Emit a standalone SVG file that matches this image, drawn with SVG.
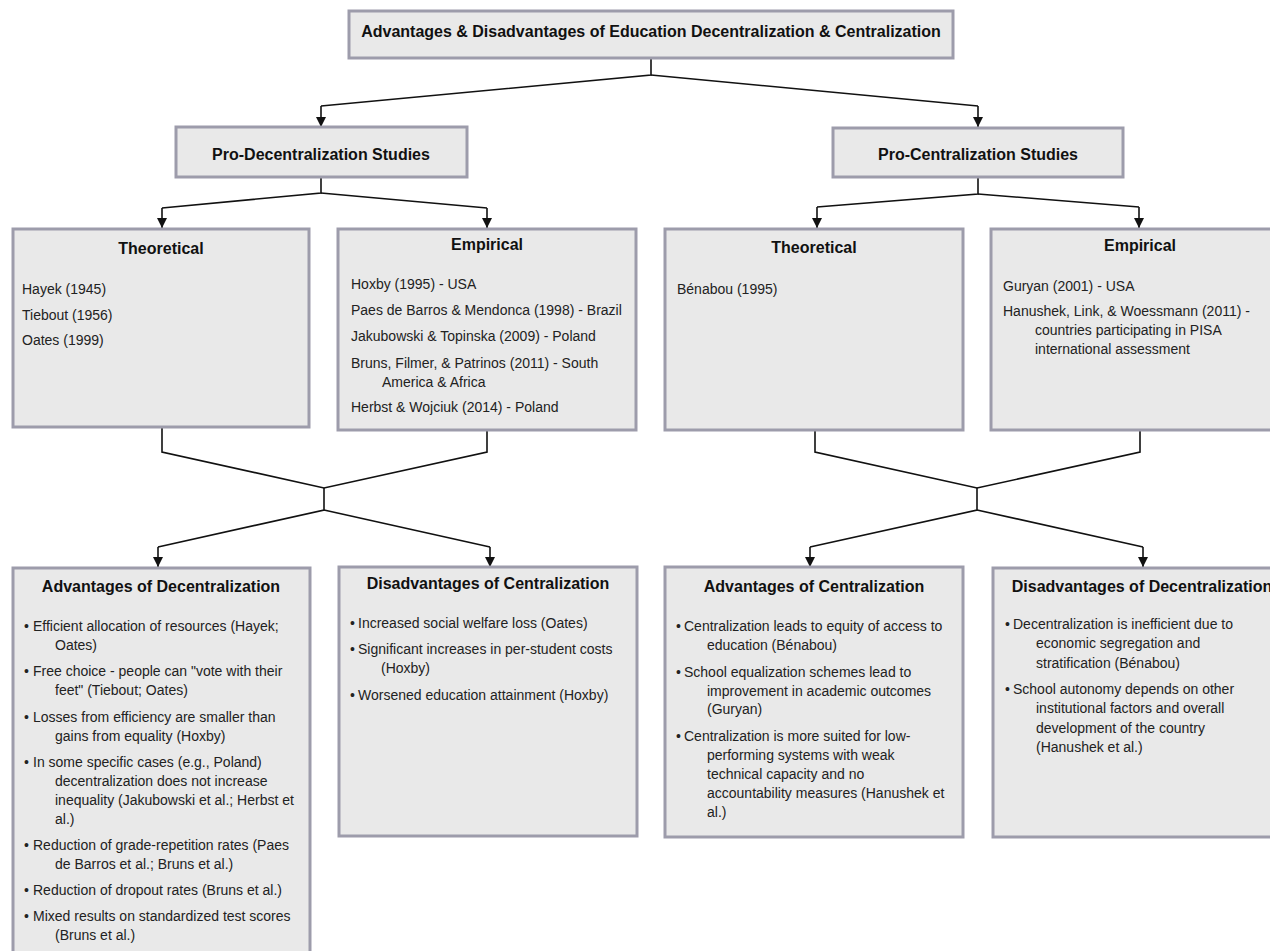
<svg xmlns="http://www.w3.org/2000/svg" width="1270" height="951" viewBox="0 0 1270 951">
<defs>
<marker id="arr" viewBox="0 0 10 10" refX="10" refY="5" markerWidth="10" markerHeight="10" markerUnits="userSpaceOnUse" orient="auto">
<path d="M0,0 L10,5 L0,10 Z" fill="#111"/>
</marker>
<style>
.box{fill:#e9e9e9;stroke:#9d9cab;stroke-width:3}
.h{font-family:"Liberation Sans",Arial,sans-serif;font-size:16px;font-weight:bold;fill:#111;text-anchor:middle}
.t{font-family:"Liberation Sans",Arial,sans-serif;font-size:14px;fill:#222}
.c{fill:none;stroke:#111;stroke-width:1.6}
</style>
</defs>
<rect width="1270" height="951" fill="#fff"/>
<g id="connectors">
<path class="c" d="M651,58 V75 L321,106"/>
<path class="c" d="M321,106 V127" marker-end="url(#arr)"/>
<path class="c" d="M651,75 L978,106"/>
<path class="c" d="M978,106 V127" marker-end="url(#arr)"/>
<path class="c" d="M321,177 V193 L162,208"/>
<path class="c" d="M162,208 V228" marker-end="url(#arr)"/>
<path class="c" d="M321,193 L487,208"/>
<path class="c" d="M487,208 V228" marker-end="url(#arr)"/>
<path class="c" d="M978,177 V194 L817,207"/>
<path class="c" d="M817,207 V228" marker-end="url(#arr)"/>
<path class="c" d="M978,194 L1139,207"/>
<path class="c" d="M1139,207 V228" marker-end="url(#arr)"/>
<path class="c" d="M162,427 V452 L324,488 L487,452 V430"/>
<path class="c" d="M324,488 V510 L158,547"/>
<path class="c" d="M158,547 V567" marker-end="url(#arr)"/>
<path class="c" d="M324,510 L490,547"/>
<path class="c" d="M490,547 V567" marker-end="url(#arr)"/>
<path class="c" d="M815,430 V452 L977,488 L1140,452 V430"/>
<path class="c" d="M977,488 V510 L810,547"/>
<path class="c" d="M810,547 V567" marker-end="url(#arr)"/>
<path class="c" d="M977,510 L1143,547"/>
<path class="c" d="M1143,547 V567" marker-end="url(#arr)"/>
</g>
<g id="root">
<rect class="box" x="349" y="11" width="604" height="47"/>
<text class="h" x="651" y="37">Advantages &amp; Disadvantages of Education Decentralization &amp; Centralization</text>
</g>
<g id="pro-decentralization">
<rect class="box" x="176" y="127" width="291" height="50"/>
<text class="h" x="321" y="159.5">Pro-Decentralization Studies</text>
</g>
<g id="pro-centralization">
<rect class="box" x="833" y="128" width="290" height="49"/>
<text class="h" x="978" y="159.5">Pro-Centralization Studies</text>
</g>
<g id="dec-theoretical">
<rect class="box" x="13" y="229" width="296" height="198"/>
<text class="h" x="161" y="253.5">Theoretical</text>
<text class="t" x="22" y="294">Hayek (1945)</text>
<text class="t" x="22" y="320">Tiebout (1956)</text>
<text class="t" x="22" y="345">Oates (1999)</text>
</g>
<g id="dec-empirical">
<rect class="box" x="338" y="229" width="298" height="201"/>
<text class="h" x="487" y="249.5">Empirical</text>
<text class="t" x="351" y="289">Hoxby (1995) - USA</text>
<text class="t" x="351" y="315">Paes de Barros &amp; Mendonca (1998) - Brazil</text>
<text class="t" x="351" y="341">Jakubowski &amp; Topinska (2009) - Poland</text>
<text class="t" x="351" y="368">Bruns, Filmer, &amp; Patrinos (2011) - South</text>
<text class="t" x="382" y="387">America &amp; Africa</text>
<text class="t" x="351" y="412">Herbst &amp; Wojciuk (2014) - Poland</text>
</g>
<g id="cen-theoretical">
<rect class="box" x="665" y="229" width="298" height="201"/>
<text class="h" x="814" y="252.5">Theoretical</text>
<text class="t" x="677" y="294">Bénabou (1995)</text>
</g>
<g id="cen-empirical">
<rect class="box" x="991" y="229" width="298" height="201"/>
<text class="h" x="1140" y="250.5">Empirical</text>
<text class="t" x="1003" y="291">Guryan (2001) - USA</text>
<text class="t" x="1003" y="316">Hanushek, Link, &amp; Woessmann (2011) -</text>
<text class="t" x="1035" y="335">countries participating in PISA</text>
<text class="t" x="1035" y="354">international assessment</text>
</g>
<g id="adv-decentralization">
<rect class="box" x="13" y="568" width="297" height="400"/>
<text class="h" x="161" y="591.5">Advantages of Decentralization</text>
<text class="t" x="24" y="631">•</text><text class="t" x="33" y="631">Efficient allocation of resources (Hayek;</text>
<text class="t" x="55" y="650">Oates)</text>
<text class="t" x="24" y="676">•</text><text class="t" x="33" y="676">Free choice - people can "vote with their</text>
<text class="t" x="55" y="695">feet" (Tiebout; Oates)</text>
<text class="t" x="24" y="722">•</text><text class="t" x="33" y="722">Losses from efficiency are smaller than</text>
<text class="t" x="55" y="741">gains from equality (Hoxby)</text>
<text class="t" x="24" y="767">•</text><text class="t" x="33" y="767">In some specific cases (e.g., Poland)</text>
<text class="t" x="55" y="786">decentralization does not increase</text>
<text class="t" x="55" y="805">inequality (Jakubowski et al.; Herbst et</text>
<text class="t" x="55" y="824">al.)</text>
<text class="t" x="24" y="850">•</text><text class="t" x="33" y="850">Reduction of grade-repetition rates (Paes</text>
<text class="t" x="55" y="869">de Barros et al.; Bruns et al.)</text>
<text class="t" x="24" y="895">•</text><text class="t" x="33" y="895">Reduction of dropout rates (Bruns et al.)</text>
<text class="t" x="24" y="921">•</text><text class="t" x="33" y="921">Mixed results on standardized test scores</text>
<text class="t" x="55" y="940">(Bruns et al.)</text>
</g>
<g id="disadv-centralization">
<rect class="box" x="339" y="567" width="298" height="269"/>
<text class="h" x="488" y="588.5">Disadvantages of Centralization</text>
<text class="t" x="350" y="628">•</text><text class="t" x="358" y="628">Increased social welfare loss (Oates)</text>
<text class="t" x="350" y="654">•</text><text class="t" x="358" y="654">Significant increases in per-student costs</text>
<text class="t" x="381" y="673">(Hoxby)</text>
<text class="t" x="350" y="700">•</text><text class="t" x="358" y="700">Worsened education attainment (Hoxby)</text>
</g>
<g id="adv-centralization">
<rect class="box" x="665" y="567" width="298" height="270"/>
<text class="h" x="814" y="591.5">Advantages of Centralization</text>
<text class="t" x="676" y="631">•</text><text class="t" x="684" y="631">Centralization leads to equity of access to</text>
<text class="t" x="707" y="650">education (Bénabou)</text>
<text class="t" x="676" y="677">•</text><text class="t" x="684" y="677">School equalization schemes lead to</text>
<text class="t" x="707" y="696">improvement in academic outcomes</text>
<text class="t" x="707" y="714">(Guryan)</text>
<text class="t" x="676" y="741">•</text><text class="t" x="684" y="741">Centralization is more suited for low-</text>
<text class="t" x="707" y="760">performing systems with weak</text>
<text class="t" x="707" y="779">technical capacity and no</text>
<text class="t" x="707" y="798">accountability measures (Hanushek et</text>
<text class="t" x="707" y="817">al.)</text>
</g>
<g id="disadv-decentralization">
<rect class="box" x="993" y="568" width="298" height="269"/>
<text class="h" x="1142" y="591.5">Disadvantages of Decentralization</text>
<text class="t" x="1005" y="629">•</text><text class="t" x="1013" y="629">Decentralization is inefficient due to</text>
<text class="t" x="1036" y="648">economic segregation and</text>
<text class="t" x="1036" y="668">stratification (Bénabou)</text>
<text class="t" x="1005" y="694">•</text><text class="t" x="1013" y="694">School autonomy depends on other</text>
<text class="t" x="1036" y="713">institutional factors and overall</text>
<text class="t" x="1036" y="733">development of the country</text>
<text class="t" x="1036" y="752">(Hanushek et al.)</text>
</g>
</svg>
